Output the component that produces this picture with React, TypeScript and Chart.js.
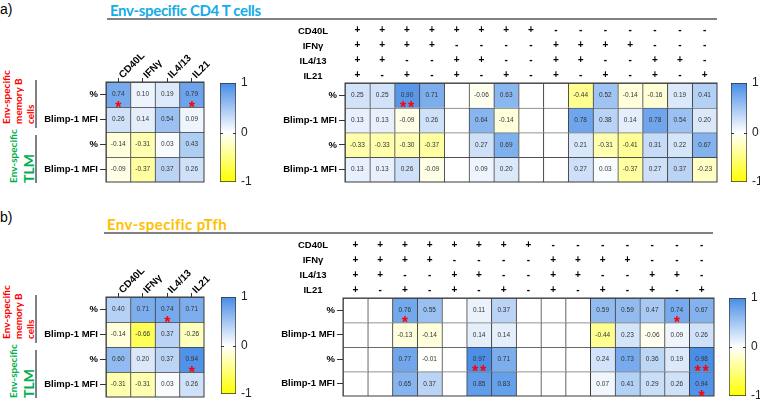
import React, { useEffect, useRef } from 'react';
import { Chart, registerables } from 'chart.js';

Chart.register(...registerables);

const FONT = '"Liberation Sans", Arial, sans-serif';

// ---------------- data ----------------
const rowLabels = ['%', 'Blimp-1 MFI', '%', 'Blimp-1 MFI'];
const cytokineLabels = ['CD40L', 'IFNγ', 'IL4/13', 'IL21'];
const markerNames = ['CD40L', 'IFNγ', 'IL4/13', 'IL21'];
const comboCD40L = ['+', '+', '+', '+', '+', '+', '+', '+', '-', '-', '-', '-', '-', '-', '-'];
const comboIFNg = ['+', '+', '+', '+', '-', '-', '-', '-', '+', '+', '+', '+', '-', '-', '-'];
const comboIL413 = ['+', '+', '-', '-', '+', '+', '-', '-', '+', '+', '-', '-', '+', '+', '-'];
const comboIL21 = ['+', '-', '+', '-', '+', '-', '+', '-', '+', '-', '+', '-', '+', '-', '+'];
const colorbarTicks = [-1, 0, 1];

const cd4LeftValues: (number | null)[][] = [
  [0.74, 0.10, 0.19, 0.79],
  [0.26, 0.14, 0.54, 0.09],
  [-0.14, -0.31, 0.03, 0.43],
  [-0.09, -0.37, 0.37, 0.26],
];
const cd4LeftStars = [
  [1, 0, 0, 1],
  [0, 0, 0, 0],
  [0, 0, 0, 0],
  [0, 0, 0, 0],
];
const cd4RightValues: (number | null)[][] = [
  [0.25, 0.25, 0.90, 0.71, null, -0.06, 0.63, null, null, -0.44, 0.52, -0.14, -0.16, 0.19, 0.41],
  [0.13, 0.13, -0.09, 0.26, null, 0.64, -0.14, null, null, 0.78, 0.38, 0.14, 0.78, 0.54, 0.20],
  [-0.33, -0.33, -0.30, -0.37, null, 0.27, 0.69, null, null, 0.21, -0.31, -0.41, 0.31, 0.22, 0.67],
  [0.13, 0.13, 0.26, -0.09, null, 0.09, 0.20, null, null, 0.27, 0.03, -0.37, 0.27, 0.37, -0.23],
];
const cd4RightStars = [
  [0, 0, 2, 0, 0, 0, 0, 0, 0, 0, 0, 0, 0, 0, 0],
  [0, 0, 0, 0, 0, 0, 0, 0, 0, 0, 0, 0, 0, 0, 0],
  [0, 0, 0, 0, 0, 0, 0, 0, 0, 0, 0, 0, 0, 0, 0],
  [0, 0, 0, 0, 0, 0, 0, 0, 0, 0, 0, 0, 0, 0, 0],
];
const pTfhLeftValues: (number | null)[][] = [
  [0.40, 0.71, 0.74, 0.71],
  [-0.14, -0.66, 0.37, -0.26],
  [0.60, 0.20, 0.37, 0.94],
  [-0.31, -0.31, 0.03, 0.26],
];
const pTfhLeftStars = [
  [0, 0, 1, 0],
  [0, 0, 0, 0],
  [0, 0, 0, 1],
  [0, 0, 0, 0],
];
const pTfhRightValues: (number | null)[][] = [
  [null, null, 0.76, 0.55, null, 0.11, 0.37, null, null, null, 0.59, 0.59, 0.47, 0.74, 0.67],
  [null, null, -0.13, -0.14, null, 0.14, 0.14, null, null, null, -0.44, 0.23, -0.06, 0.09, 0.26],
  [null, null, 0.77, -0.01, null, 0.97, 0.71, null, null, null, 0.24, 0.73, 0.36, 0.19, 0.98],
  [null, null, 0.65, 0.37, null, 0.85, 0.83, null, null, null, 0.07, 0.41, 0.29, 0.26, 0.94],
];
const pTfhRightStars = [
  [0, 0, 1, 0, 0, 0, 0, 0, 0, 0, 0, 0, 0, 1, 0],
  [0, 0, 0, 0, 0, 0, 0, 0, 0, 0, 0, 0, 0, 0, 0],
  [0, 0, 0, 0, 0, 2, 0, 0, 0, 0, 0, 0, 0, 0, 2],
  [0, 0, 0, 0, 0, 0, 0, 0, 0, 0, 0, 0, 0, 0, 1],
];

const comboLabels = comboCD40L.map((_, i) => [comboCD40L[i], comboIFNg[i], comboIL413[i], comboIL21[i]]);

// ---------------- helpers ----------------
const BLUE = [70, 140, 230];
function cellColor(v: number | null): string {
  if (v == null) return '#ffffff';
  if (v >= 0) {
    const t = Math.min(1, v);
    const r = Math.round(255 + (BLUE[0] - 255) * t);
    const g = Math.round(255 + (BLUE[1] - 255) * t);
    const b = Math.round(255 + (BLUE[2] - 255) * t);
    return `rgb(${r},${g},${b})`;
  }
  const t = Math.min(1, -v);
  return `rgb(255,255,${Math.round(255 * (1 - t))})`;
}

type Box = { l: number; t: number; r: number; b: number };

type HeatProps = {
  left: number; top: number; width: number; height: number;
  area: Box;
  columns: (string | string[])[];
  values: (number | null)[][];
  stars: number[][];
  rotated: boolean;
};

function Heatmap(p: HeatProps) {
  const ref = useRef<HTMLCanvasElement>(null);
  useEffect(() => {
    if (!ref.current) return;
    const yW = p.area.l - p.left;
    const xH = p.area.t - p.top;
    const padR = p.left + p.width - p.area.r;
    const padB = p.top + p.height - p.area.b;
    const values = p.values;
    const stars = p.stars;
    const datasets = values.map((row, r) => ({
      data: row.map(() => [r, r + 1]),
      backgroundColor: row.map(cellColor),
      borderColor: '#3a3a3a',
      borderWidth: { top: 1, left: 1, right: 0, bottom: 0 },
      borderSkipped: false,
      grouped: false,
      barPercentage: 1,
      categoryPercentage: 1,
    }));
    const cellPlugin = {
      id: 'cellText',
      afterDatasetsDraw(chart: any) {
        const ctx = chart.ctx;
        const a = chart.chartArea;
        ctx.save();
        ctx.strokeStyle = '#3a3a3a';
        ctx.lineWidth = 1;
        ctx.strokeRect(a.left, a.top, a.right - a.left, a.bottom - a.top);
        values.forEach((row, r) => {
          const meta = chart.getDatasetMeta(r);
          row.forEach((v, c) => {
            if (v == null) return;
            const el = meta.data[c];
            const cx = el.x;
            const cy = (el.y + el.base) / 2;
            ctx.fillStyle = '#333333';
            ctx.font = `6.5px ${FONT}`;
            ctx.textAlign = 'center';
            ctx.textBaseline = 'middle';
            ctx.fillText(v.toFixed(2), cx, cy);
            const n = stars[r][c];
            if (n) {
              const size = 16;
              ctx.fillStyle = '#ff0000';
              ctx.font = `bold ${size}px ${FONT}`;
              ctx.textBaseline = 'alphabetic';
              const by = cy + 9 + 0.57 * size;
              if (n === 1) ctx.fillText('*', cx, by);
              else {
                ctx.fillText('*', cx - 4, by);
                ctx.fillText('*', cx + 4, by);
              }
            }
          });
        });
        ctx.restore();
      },
    };
    const chart = new Chart(ref.current, {
      type: 'bar',
      data: { labels: p.columns as any, datasets: datasets as any },
      options: {
        animation: false,
        responsive: false,
        maintainAspectRatio: false,
        layout: { padding: { left: 0, top: 0, right: padR, bottom: padB } },
        plugins: { legend: { display: false }, tooltip: { enabled: false } },
        scales: {
          x: {
            type: 'category',
            position: 'top',
            offset: true,
            grid: {
              display: p.rotated,
              drawOnChartArea: false,
              drawTicks: p.rotated,
              tickLength: 4,
              color: '#333333',
              offset: false,
            },
            border: { display: false },
            ticks: {
              autoSkip: false,
              maxRotation: p.rotated ? 45 : 0,
              minRotation: p.rotated ? 45 : 0,
              padding: p.rotated ? -3 : 0.5,
              labelOffset: p.rotated ? 11 : 0,
              color: '#000000',
              font: { family: FONT, size: 10, weight: 'bold', lineHeight: p.rotated ? 1.2 : 1.5 },
            },
            afterFit: (s: any) => {
              s.height = xH;
              s.paddingLeft = 0;
              s.paddingRight = 0;
              s.paddingTop = 0;
              s.paddingBottom = 0;
            },
          } as any,
          y: {
            type: 'linear',
            position: 'left',
            min: 0,
            max: 4,
            reverse: true,
            afterBuildTicks: (s: any) => {
              s.ticks = rowLabels.map((_, i) => ({ value: i + 0.5 }));
            },
            ticks: {
              callback: (_v: any, i: number) => rowLabels[i],
              color: '#000000',
              padding: 2,
              font: { family: FONT, size: 9.5, weight: 'bold' },
            },
            grid: { drawOnChartArea: false, drawTicks: true, tickLength: 6, color: '#333333' },
            border: { display: false },
            afterFit: (s: any) => {
              s.width = yW;
              s.paddingTop = 0;
              s.paddingBottom = 0;
              s.paddingLeft = 0;
              s.paddingRight = 0;
            },
          } as any,
        },
      },
      plugins: [cellPlugin],
    });
    return () => chart.destroy();
  }, []);
  return (
    <canvas
      ref={ref}
      width={p.width}
      height={p.height}
      style={{ position: 'absolute', left: p.left, top: p.top, width: p.width, height: p.height }}
    />
  );
}

type BarProps = { left: number; top: number; width: number; height: number; area: Box };

function ColorBar(p: BarProps) {
  const ref = useRef<HTMLCanvasElement>(null);
  useEffect(() => {
    if (!ref.current) return;
    const yW = p.left + p.width - p.area.r;
    const zeroPlugin = {
      id: 'zeroTick',
      afterDatasetsDraw(chart: any) {
        const ctx = chart.ctx;
        const a = chart.chartArea;
        const y0 = Math.round(chart.scales.y.getPixelForValue(0)) + 0.5;
        ctx.save();
        ctx.strokeStyle = '#333333';
        ctx.lineWidth = 1;
        ctx.beginPath();
        ctx.moveTo(a.left, y0);
        ctx.lineTo(a.left + 3, y0);
        ctx.moveTo(a.right - 3, y0);
        ctx.lineTo(a.right, y0);
        ctx.stroke();
        ctx.restore();
      },
    };
    const chart = new Chart(ref.current, {
      type: 'bar',
      data: {
        labels: [''],
        datasets: [
          {
            data: [[colorbarTicks[0], colorbarTicks[colorbarTicks.length - 1]]] as any,
            backgroundColor: (c: any) => {
              const ch = c.chart;
              const a = ch.chartArea;
              if (!a) return '#ffffff';
              const g = ch.ctx.createLinearGradient(0, a.bottom, 0, a.top);
              g.addColorStop(0, '#ffff00');
              g.addColorStop(0.5, '#ffffff');
              g.addColorStop(1, `rgb(${BLUE[0]},${BLUE[1]},${BLUE[2]})`);
              return g;
            },
            borderColor: '#333333',
            borderWidth: 1,
            borderSkipped: false,
            barPercentage: 1,
            categoryPercentage: 1,
          } as any,
        ],
      },
      options: {
        animation: false,
        responsive: false,
        maintainAspectRatio: false,
        layout: {
          padding: {
            left: p.area.l - p.left,
            top: p.area.t - p.top,
            right: 0,
            bottom: p.top + p.height - p.area.b,
          },
        },
        plugins: { legend: { display: false }, tooltip: { enabled: false } },
        scales: {
          x: { display: false },
          y: {
            type: 'linear',
            position: 'right',
            min: -1,
            max: 1,
            afterBuildTicks: (s: any) => {
              s.ticks = colorbarTicks.map((v) => ({ value: v }));
            },
            ticks: { color: '#222222', padding: 5, font: { family: FONT, size: 12 } },
            grid: { drawOnChartArea: false, drawTicks: false },
            border: { display: false },
            afterFit: (s: any) => {
              s.width = yW;
              s.paddingTop = 0;
              s.paddingBottom = 0;
            },
          } as any,
        },
      },
      plugins: [zeroPlugin],
    });
    return () => chart.destroy();
  }, []);
  return (
    <canvas
      ref={ref}
      width={p.width}
      height={p.height}
      style={{ position: 'absolute', left: p.left, top: p.top, width: p.width, height: p.height }}
    />
  );
}

function MarkerLabels({ top }: { top: number }) {
  return (
    <>
      {markerNames.map((m, i) => (
        <div
          key={m}
          style={{
            position: 'absolute',
            left: 283,
            width: 60,
            top: top + i * 15 - 7.5,
            height: 15,
            lineHeight: '15px',
            textAlign: 'center',
            fontFamily: FONT,
            fontWeight: 'bold',
            fontSize: 9.5,
            color: '#000',
          }}
        >
          {m}
        </div>
      ))}
    </>
  );
}

function GroupLabels({ dy }: { dy: number }) {
  const vert: React.CSSProperties = {
    position: 'absolute',
    writingMode: 'vertical-rl',
    transform: 'rotate(180deg)',
    textAlign: 'start',
    fontFamily: 'Lato, "Open Sans", sans-serif',
    fontWeight: 'bold',
    whiteSpace: 'nowrap',
  };
  return (
    <>
      <div style={{ ...vert, left: 0, top: 68 + dy, height: 56, width: 36, color: '#ff0000', fontSize: 10, lineHeight: '12px' }}>
        <div>Env-specific</div>
        <div>memory B</div>
        <div>cells</div>
      </div>
      <div style={{ ...vert, left: 7, top: 128 + dy, height: 55, width: 30, color: '#00b050' }}>
        <div style={{ fontSize: 10, lineHeight: '12px' }}>Env-specific</div>
        <div style={{ fontSize: 14, lineHeight: '20px' }}>TLM</div>
      </div>
      <div style={{ position: 'absolute', left: 35, top: 80 + dy, width: 2, height: 48, background: '#808080' }} />
      <div style={{ position: 'absolute', left: 35, top: 135 + dy, width: 2, height: 48, background: '#808080' }} />
    </>
  );
}

const titleStyle: React.CSSProperties = {
  position: 'absolute',
  fontFamily: 'Lato, sans-serif',
  fontWeight: 'bold',
  fontSize: 15,
  lineHeight: '20px',
  whiteSpace: 'nowrap',
};

export default function App() {
  return (
    <div
      style={{
        position: 'absolute',
        left: 0,
        top: 0,
        width: 760,
        height: 401,
        overflow: 'hidden',
        background: '#ffffff',
      }}
    >
      {/* panel a */}
      <div style={{ position: 'absolute', left: 0, top: 0, fontFamily: FONT, fontSize: 14, lineHeight: '18px' }}>a)</div>
      <div style={{ ...titleStyle, left: 110, top: 0, color: '#14ace8', letterSpacing: '-0.35px' }}>
        Env-specific CD4 T cells
      </div>
      <div style={{ position: 'absolute', left: 107, top: 18, width: 610, height: 2, background: '#808080' }} />
      <GroupLabels dy={0} />
      <Heatmap
        left={40} top={40} width={180} height={150}
        area={{ l: 106, t: 82, r: 204, b: 182 }}
        columns={cytokineLabels}
        values={cd4LeftValues}
        stars={cd4LeftStars}
        rotated={true}
      />
      <ColorBar left={212} top={75} width={48} height={115} area={{ l: 220, t: 83, r: 236, b: 182 }} />
      <Heatmap
        left={280} top={20} width={450} height={170}
        area={{ l: 345, t: 83, r: 717, b: 182 }}
        columns={comboLabels}
        values={cd4RightValues}
        stars={cd4RightStars}
        rotated={false}
      />
      <MarkerLabels top={30} />
      <ColorBar left={722} top={75} width={38} height={115} area={{ l: 731, t: 83, r: 747, b: 182 }} />

      {/* panel b */}
      <div style={{ position: 'absolute', left: 0, top: 208, fontFamily: FONT, fontSize: 14, lineHeight: '18px' }}>b)</div>
      <div style={{ ...titleStyle, left: 107, top: 214, color: '#ffc000', letterSpacing: '0.4px' }}>
        Env-specific pTfh
      </div>
      <div style={{ position: 'absolute', left: 104, top: 232, width: 609, height: 2, background: '#808080' }} />
      <GroupLabels dy={215} />
      <Heatmap
        left={40} top={255} width={180} height={146}
        area={{ l: 106, t: 297, r: 204, b: 397 }}
        columns={cytokineLabels}
        values={pTfhLeftValues}
        stars={pTfhLeftStars}
        rotated={true}
      />
      <ColorBar left={212} top={290} width={48} height={111} area={{ l: 221, t: 297, r: 236, b: 394 }} />
      <Heatmap
        left={280} top={235} width={450} height={166}
        area={{ l: 343, t: 298, r: 714, b: 396 }}
        columns={comboLabels}
        values={pTfhRightValues}
        stars={pTfhRightStars}
        rotated={false}
      />
      <MarkerLabels top={244.5} />
      <ColorBar left={720} top={290} width={40} height={111} area={{ l: 729, t: 298, r: 746, b: 396 }} />
    </div>
  );
}
